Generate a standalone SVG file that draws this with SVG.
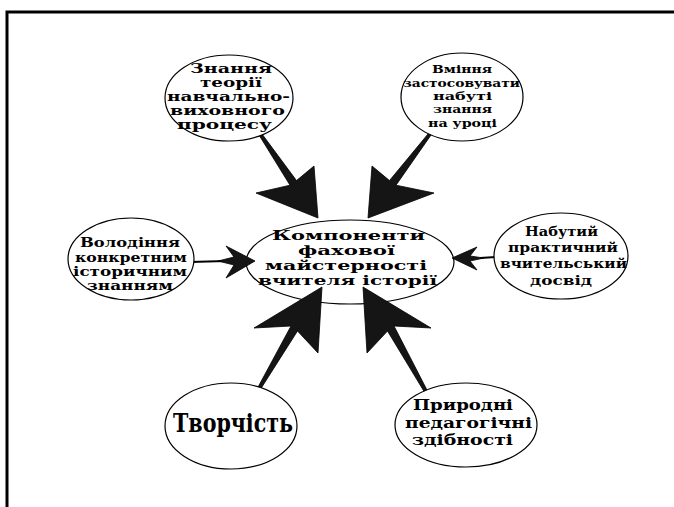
<svg xmlns="http://www.w3.org/2000/svg" width="674" height="507" viewBox="0 0 674 507">
<style>
.bg{fill:#ffffff}
.frame{fill:none;stroke:#000;stroke-width:3}
.node ellipse{fill:#fff;stroke:#000;stroke-width:1.2}
.node text{font-family:"DejaVu Serif","Liberation Serif",serif;font-weight:bold;fill:#000;text-anchor:middle}
.arrow{fill:#151515;stroke:#000;stroke-width:0.8;stroke-linejoin:miter}
.shaft{fill:none;stroke:#000;stroke-width:2}
</style>
<rect class="bg" x="0" y="0" width="674" height="507"/>
<path class="frame" d="M7,507 V12 H674"/>

<g id="center" class="node">
  <ellipse cx="350" cy="262" rx="104" ry="42"/>
  <text x="348.5" y="240" font-size="12.8" textLength="153" lengthAdjust="spacingAndGlyphs">Компоненти</text>
  <text x="346.5" y="255" font-size="12.8" textLength="97" lengthAdjust="spacingAndGlyphs">фахової</text>
  <text x="346" y="270" font-size="12.8" textLength="162" lengthAdjust="spacingAndGlyphs">майстерності</text>
  <text x="347.5" y="285" font-size="12.8" textLength="179" lengthAdjust="spacingAndGlyphs">вчителя історії</text>
</g>

<g id="connectors">
  <polygon class="arrow" points="259,135 290,185.2 256,193 318,218 314,166 296.5,180.6 262,134"/>
  <polygon class="arrow" points="368,218 372,166 389.5,180.6 428,134 431,135 396,185.2 434,193"/>
  <polygon class="arrow" points="322,287 254,328 291,326 257,389 260,390 297.5,331 318,353"/>
  <polygon class="arrow" points="363,287 431,328 394,326 428,392 425,393 387.5,331 367,353"/>
  <line class="shaft" x1="190" y1="262" x2="226" y2="261"/>
  <polygon class="arrow" points="255,261 226,246 234,257 218,261 234,265 226,278"/>
  <line class="shaft" x1="496" y1="257" x2="480" y2="258"/>
  <polygon class="arrow" points="452,258 477,247 470,256 484,258 470,261 477,270"/>
</g>

<g id="n-theory" class="node">
  <ellipse cx="229" cy="98" rx="64" ry="43"/>
  <text x="231" y="73" font-size="12" textLength="82" lengthAdjust="spacingAndGlyphs">Знання</text>
  <text x="231" y="87" font-size="12" textLength="62" lengthAdjust="spacingAndGlyphs">теорії</text>
  <text x="228.5" y="101" font-size="12" textLength="123" lengthAdjust="spacingAndGlyphs">навчально-</text>
  <text x="227.5" y="115" font-size="12" textLength="115" lengthAdjust="spacingAndGlyphs">виховного</text>
  <text x="224.5" y="129" font-size="12" textLength="95" lengthAdjust="spacingAndGlyphs">процесу</text>
</g>

<g id="n-skills" class="node">
  <ellipse cx="462" cy="97" rx="61" ry="44"/>
  <text x="462" y="73" font-size="11.5" textLength="60" lengthAdjust="spacingAndGlyphs">Вміння</text>
  <text x="461.5" y="87" font-size="11" textLength="117" lengthAdjust="spacingAndGlyphs">застосовувати</text>
  <text x="462.5" y="100" font-size="11" textLength="59" lengthAdjust="spacingAndGlyphs">набуті</text>
  <text x="462.5" y="113" font-size="11" textLength="59" lengthAdjust="spacingAndGlyphs">знання</text>
  <text x="462.5" y="127" font-size="11.5" textLength="69" lengthAdjust="spacingAndGlyphs">на уроці</text>
</g>

<g id="n-knowledge" class="node">
  <ellipse cx="131" cy="259" rx="63" ry="41"/>
  <text x="130" y="247" font-size="12.3" textLength="100" lengthAdjust="spacingAndGlyphs">Володіння</text>
  <text x="131" y="262" font-size="12.3" textLength="112" lengthAdjust="spacingAndGlyphs">конкретним</text>
  <text x="130" y="276" font-size="12" textLength="114" lengthAdjust="spacingAndGlyphs">історичним</text>
  <text x="130" y="290" font-size="12" textLength="86" lengthAdjust="spacingAndGlyphs">знанням</text>
</g>

<g id="n-experience" class="node">
  <ellipse cx="561" cy="256" rx="67" ry="43"/>
  <text x="561.5" y="236" font-size="13.5" textLength="73" lengthAdjust="spacingAndGlyphs">Набутий</text>
  <text x="563" y="252" font-size="13.5" textLength="110" lengthAdjust="spacingAndGlyphs">практичний</text>
  <text x="563.5" y="268" font-size="13.5" textLength="127" lengthAdjust="spacingAndGlyphs">вчительський</text>
  <text x="561" y="285" font-size="13.5" textLength="62" lengthAdjust="spacingAndGlyphs">досвід</text>
</g>

<g id="n-creativity" class="node">
  <ellipse cx="231" cy="426" rx="66" ry="43"/>
  <text x="233" y="432" font-size="26" textLength="120" lengthAdjust="spacingAndGlyphs">Творчість</text>
</g>

<g id="n-abilities" class="node">
  <ellipse cx="466" cy="425" rx="71" ry="42"/>
  <text x="463" y="410" font-size="14.5" textLength="100" lengthAdjust="spacingAndGlyphs">Природні</text>
  <text x="468.5" y="428" font-size="14.5" textLength="127" lengthAdjust="spacingAndGlyphs">педагогічні</text>
  <text x="462.5" y="445" font-size="14.5" textLength="101" lengthAdjust="spacingAndGlyphs">здібності</text>
</g>
</svg>
